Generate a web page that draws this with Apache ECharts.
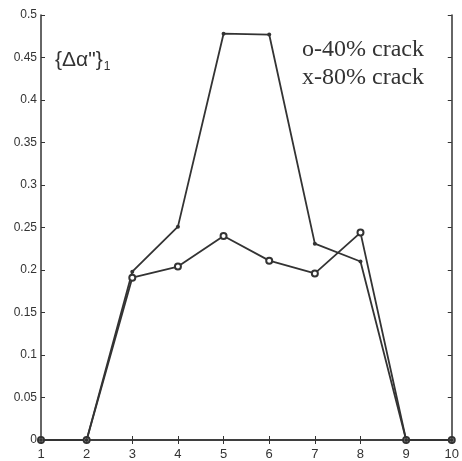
<!DOCTYPE html>
<html>
<head>
<meta charset="utf-8">
<script src="https://cdn.jsdelivr.net/npm/echarts@6/dist/echarts.min.js"></script>
<style>
  html, body { margin: 0; padding: 0; background: #fff; }
  #chart { width: 462px; height: 461px; }
</style>
</head>
<body>
<div id="chart"></div>
<script>
// sensor positions along the beam
var positions = ['1', '2', '3', '4', '5', '6', '7', '8', '9', '10'];
// damage indicator values
var crack40 = [0, 0, 0.191, 0.204, 0.240, 0.211, 0.196, 0.244, 0, 0];
var crack80 = [0, 0, 0.198, 0.251, 0.478, 0.477, 0.231, 0.210, 0, 0];
var yTicks = ['0', '0.05', '0.1', '0.15', '0.2', '0.25', '0.3', '0.35', '0.4', '0.45', '0.5'];

var ink = '#333';
var myChart = echarts.init(document.getElementById('chart'));

var option = {
  backgroundColor: '#fff',
  animation: false,
  grid: { left: 41, right: 9, top: 15, bottom: 20 },
  xAxis: [{
    type: 'category',
    data: positions,
    boundaryGap: false,
    axisLine: { lineStyle: { color: ink, width: 1.5 } },
    axisTick: { inside: true, length: 4, lineStyle: { color: ink } },
    axisLabel: { color: '#333', fontSize: 13, fontFamily: 'Liberation Sans', margin: 8 },
    splitLine: { show: false }
  }, {
    type: 'category',
    data: positions,
    boundaryGap: false,
    position: 'top',
    axisLine: { lineStyle: { color: ink, width: 1.5 } },
    axisTick: { inside: true, length: 4, lineStyle: { color: ink } },
    axisLabel: { show: false }
  }],
  yAxis: [{
    type: 'value',
    min: 0, max: 0.5, interval: 0.05,
    axisLine: { show: true, lineStyle: { color: ink, width: 1.5 } },
    axisTick: { show: true, inside: true, length: 4, lineStyle: { color: ink } },
    axisLabel: {
      color: '#333', fontSize: 12, fontFamily: 'Liberation Sans', margin: 4,
      formatter: function (v) { return yTicks[Math.round(v / 0.05)]; }
    },
    splitLine: { show: false }
  }, {
    type: 'value',
    min: 0, max: 0.5, interval: 0.05,
    position: 'right',
    axisLine: { show: true, lineStyle: { color: ink, width: 1.5 } },
    axisTick: { show: true, inside: true, length: 4, lineStyle: { color: ink } },
    axisLabel: { show: false },
    splitLine: { show: false }
  }],
  series: [{
    name: 'o-40% crack',
    type: 'line',
    data: crack40,
    symbol: 'emptyCircle',
    symbolSize: 6,
    lineStyle: { color: ink, width: 1.8 },
    itemStyle: { color: ink, borderWidth: 1 }
  }, {
    name: 'x-80% crack',
    type: 'line',
    data: crack80,
    symbol: 'circle',
    symbolSize: 4,
    lineStyle: { color: ink, width: 1.8 },
    itemStyle: { color: ink }
  }],
  graphic: [{
    type: 'text',
    left: 55, top: 50,
    style: {
      text: '{a|{Δα"}}{b|1}',
      fontSize: 21, fontFamily: 'Liberation Sans', fill: '#333',
      rich: {
        a: { fontSize: 21, fontFamily: 'Liberation Sans', fill: '#333' },
        b: { fontSize: 12, fontFamily: 'Liberation Sans', fill: '#333', padding: [12, 0, 0, 1] }
      }
    }
  }, {
    type: 'text',
    left: 302, top: 38,
    style: { text: 'o-40% crack', font: '24px "Liberation Serif"', fill: '#333' }
  }, {
    type: 'text',
    left: 302, top: 66,
    style: { text: 'x-80% crack', font: '24px "Liberation Serif"', fill: '#333' }
  }]
};
myChart.setOption(option);
</script>
</body>
</html>
